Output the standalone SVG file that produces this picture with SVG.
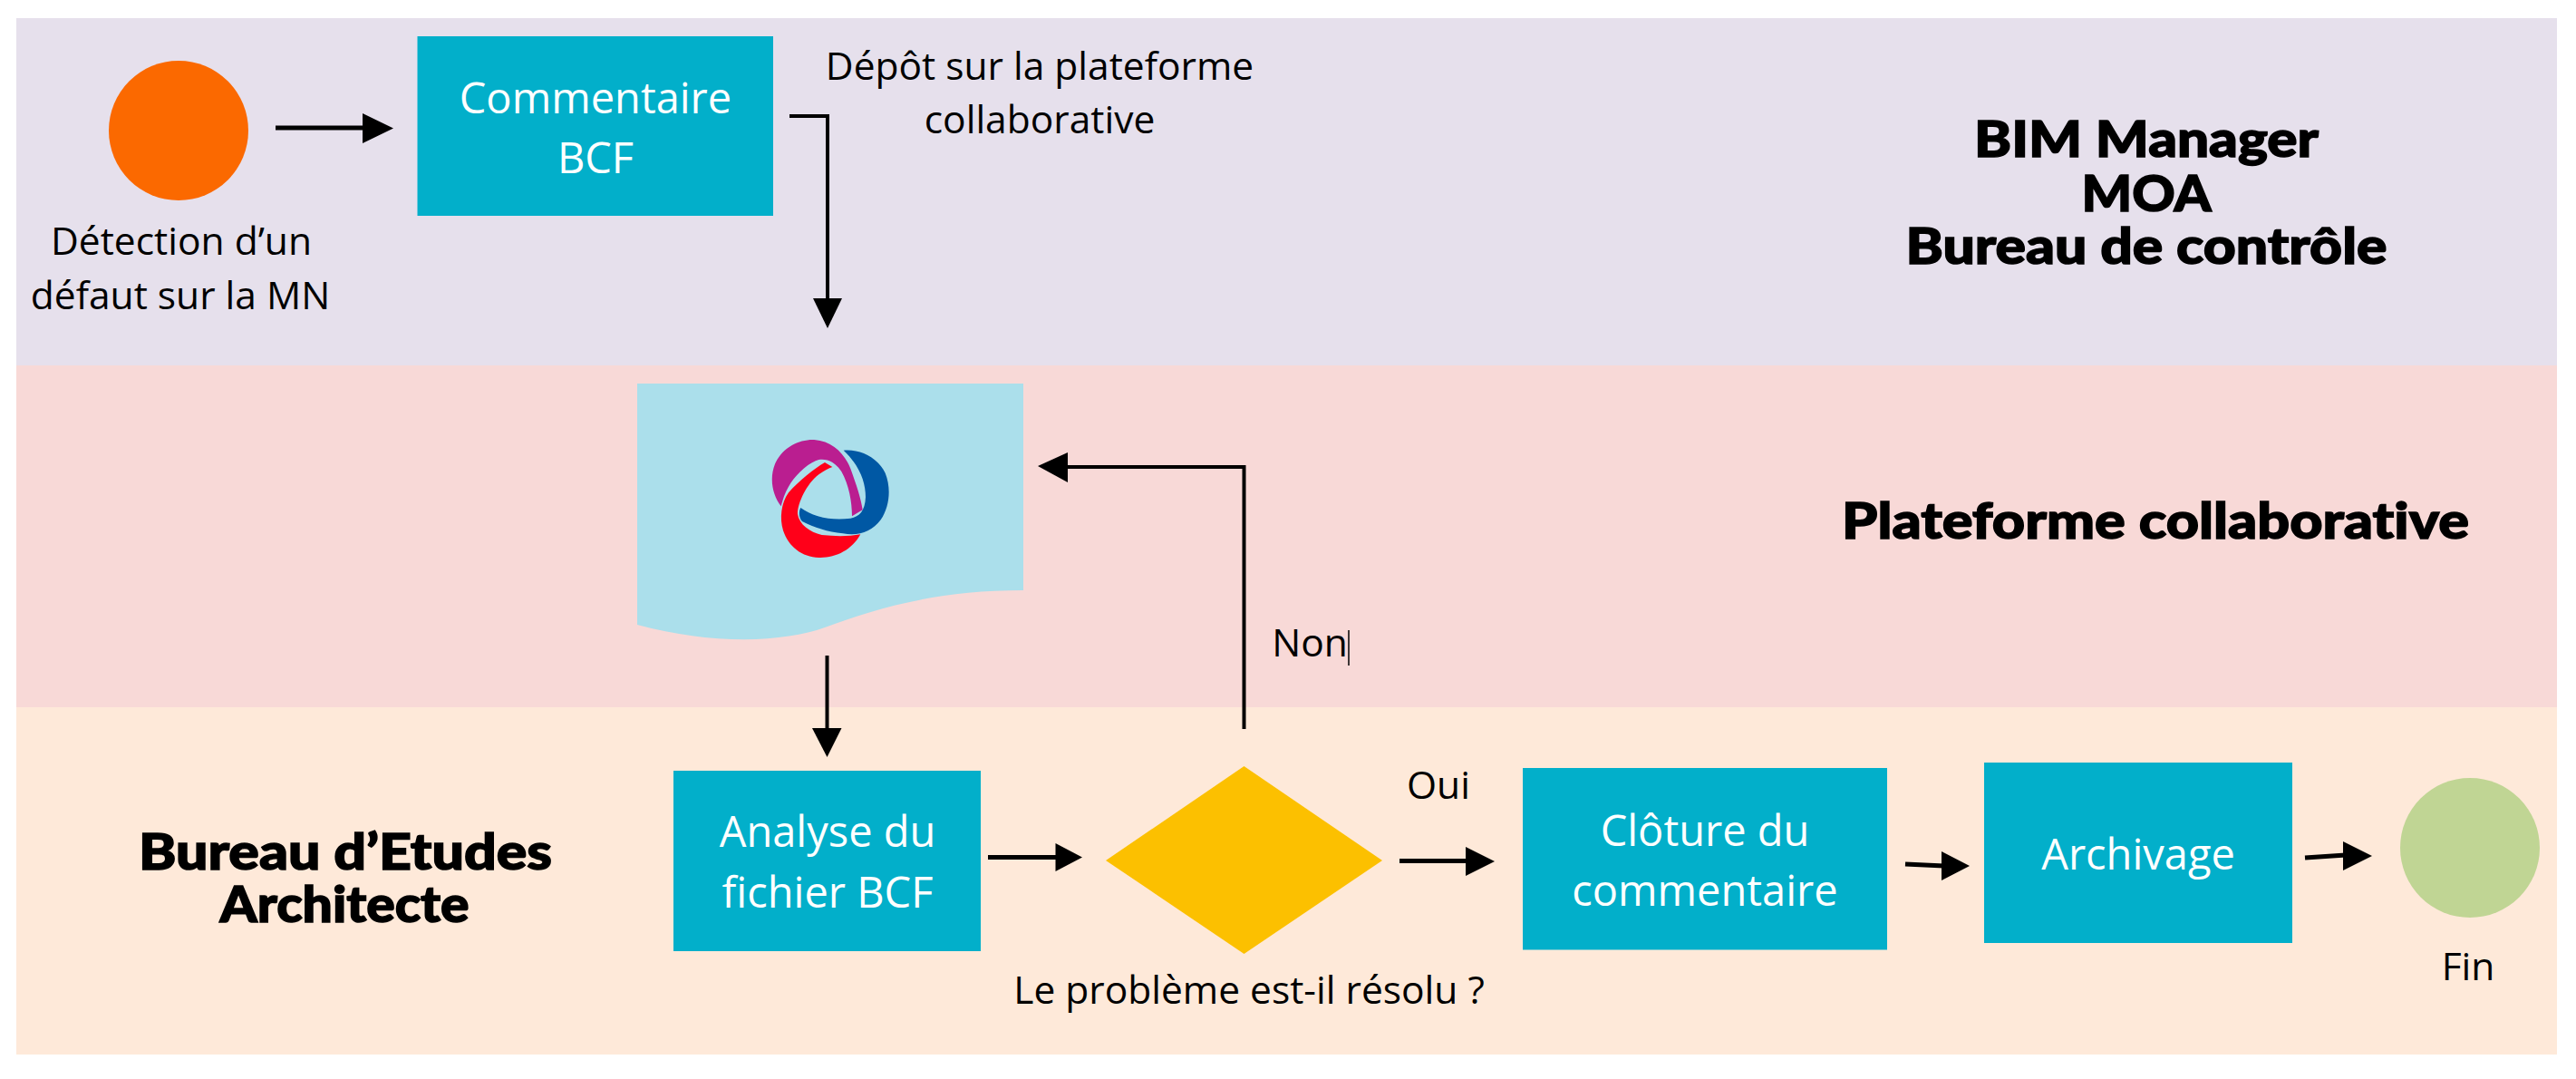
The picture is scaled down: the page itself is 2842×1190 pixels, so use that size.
<svg xmlns="http://www.w3.org/2000/svg" width="2842" height="1190" viewBox="0 0 2842 1190">
<style>
text{font-family:"Open Sans","Noto Sans","Liberation Sans",sans-serif;text-anchor:middle}
.t{font-size:42.500px;fill:#000}
.w{font-size:47px;fill:#fff}
.b{font-family:Lato,"Liberation Sans",sans-serif;font-weight:900;font-size:56px;fill:#000;stroke:#000;stroke-width:1.500;font-variant-ligatures:none}
.box{fill:#02AFCA}
.c{fill:none;stroke:#000;stroke-width:5}
.v{fill:none;stroke:#000;stroke-width:4}
.h{fill:#000}
</style>
<g id="bands">
<rect x="18" y="20" width="2803" height="383" fill="#E6E0EC"/>
<rect x="18" y="403" width="2803" height="377" fill="#F8D9D7"/>
<rect x="18" y="780" width="2803" height="383" fill="#FEE9D9"/>
</g>
<g id="connectors">
<path class="c" d="M304 141H402"/><path class="h" d="M400 125L434 141.500L400 158Z"/>
<path class="v" d="M871 128H913V332"/><path class="h" d="M897 329H929L913 362Z"/>
<path class="v" d="M912.500 723V806"/><path class="h" d="M896 803H928.500L912.500 835Z"/>
<path class="v" d="M1372.500 804V515H1176"/><path class="h" d="M1178 499V532L1145 514Z"/>
<path class="c" d="M1090 945.500H1167"/><path class="h" d="M1164.500 930L1194 945.500L1164.500 961Z"/>
<path class="c" d="M1544 949.500H1620"/><path class="h" d="M1617 934L1649 950L1617 966Z"/>
<path class="c" d="M2102 953L2145 955"/><path class="h" d="M2142 939L2173 955L2142 971Z"/>
<path class="c" d="M2543 946L2588 943"/><path class="h" d="M2585 928L2617 944L2585 960Z"/>
</g>
<g id="start"><circle cx="197" cy="144" r="77" fill="#FB6900"/>
<text class="t" x="200" y="281">Détection d’un</text><text class="t" x="199" y="341">défaut sur la MN</text></g>
<g id="commentaire"><rect class="box" x="460.500" y="40" width="392.500" height="198"/>
<text class="w" x="657" y="125">Commentaire</text><text class="w" x="657" y="191">BCF</text></g>
<g id="label-depot"><text class="t" x="1147" y="88">Dépôt sur la plateforme</text><text class="t" x="1147" y="147">collaborative</text></g>
<g id="document"><path d="M703 423H1129V651C1030 651 965 672 910 692C865 708 790 712 703 689Z" fill="#ABDFEB"/>
<g id="logo" transform="translate(840 475) scale(.3333)">
<path fill="#BA1E90" d="M65 250C38 215 25 160 45 110C70 55 125 28 175 30C235 35 275 75 295 125C315 180 330 225 335 262L300 283C300 235 290 180 265 135C245 105 220 92 190 96C150 108 110 150 90 185C78 205 70 230 65 250Z"/>
<path fill="#0058A4" d="M272 65C330 60 385 90 410 140C430 190 425 250 395 295C365 335 320 350 270 340C220 335 175 320 135 300C125 290 122 270 130 255C170 285 230 298 295 290C325 285 343 265 345 220C345 170 325 115 272 65Z"/>
<path fill="#FF0019" d="M235 120L210 105C175 125 125 165 90 205C65 240 60 290 72 330C90 385 135 418 190 420C245 422 300 395 328 343C290 350 245 350 200 345C160 335 125 310 120 275C120 240 150 175 190 145C205 135 220 125 235 120Z"/>
</g></g>
<g id="analyse"><rect class="box" x="743" y="850" width="339" height="199"/>
<text class="w" x="913" y="934">Analyse du</text><text class="w" x="913" y="1001">fichier BCF</text></g>
<g id="decision"><path d="M1372.500 845L1525 949L1372.500 1052L1220 949Z" fill="#FCC000"/>
<text class="t" x="1378" y="1107">Le problème est-il résolu ?</text></g>
<g id="label-non"><text class="t" x="1445" y="724">Non</text><path d="M1488 695V734" stroke="#000" stroke-width="1.500"/></g>
<g id="label-oui"><text class="t" x="1587" y="881">Oui</text></g>
<g id="cloture"><rect class="box" x="1680" y="847" width="402" height="200.500"/>
<text class="w" x="1881" y="933">Clôture du</text><text class="w" x="1881" y="999">commentaire</text></g>
<g id="archivage"><rect class="box" x="2189" y="841" width="340" height="199"/>
<text class="w" x="2359" y="959">Archivage</text></g>
<g id="fin"><circle cx="2725" cy="935" r="77" fill="#C0D594"/><text class="t" x="2723" y="1081">Fin</text></g>
<g id="role-top"><text class="b" x="2368" y="173" textLength="380" lengthAdjust="spacingAndGlyphs">BIM Manager</text><text class="b" x="2368" y="233" textLength="143" lengthAdjust="spacingAndGlyphs">MOA</text><text class="b" x="2368" y="291" textLength="531" lengthAdjust="spacingAndGlyphs">Bureau de contrôle</text></g>
<g id="role-mid"><text class="b" x="2378" y="594" textLength="692" lengthAdjust="spacingAndGlyphs">Plateforme collaborative</text></g>
<g id="role-bottom"><text class="b" x="381" y="959" textLength="456" lengthAdjust="spacingAndGlyphs">Bureau d’Etudes</text><text class="b" x="380" y="1017" textLength="275" lengthAdjust="spacingAndGlyphs">Architecte</text></g>
</svg>
